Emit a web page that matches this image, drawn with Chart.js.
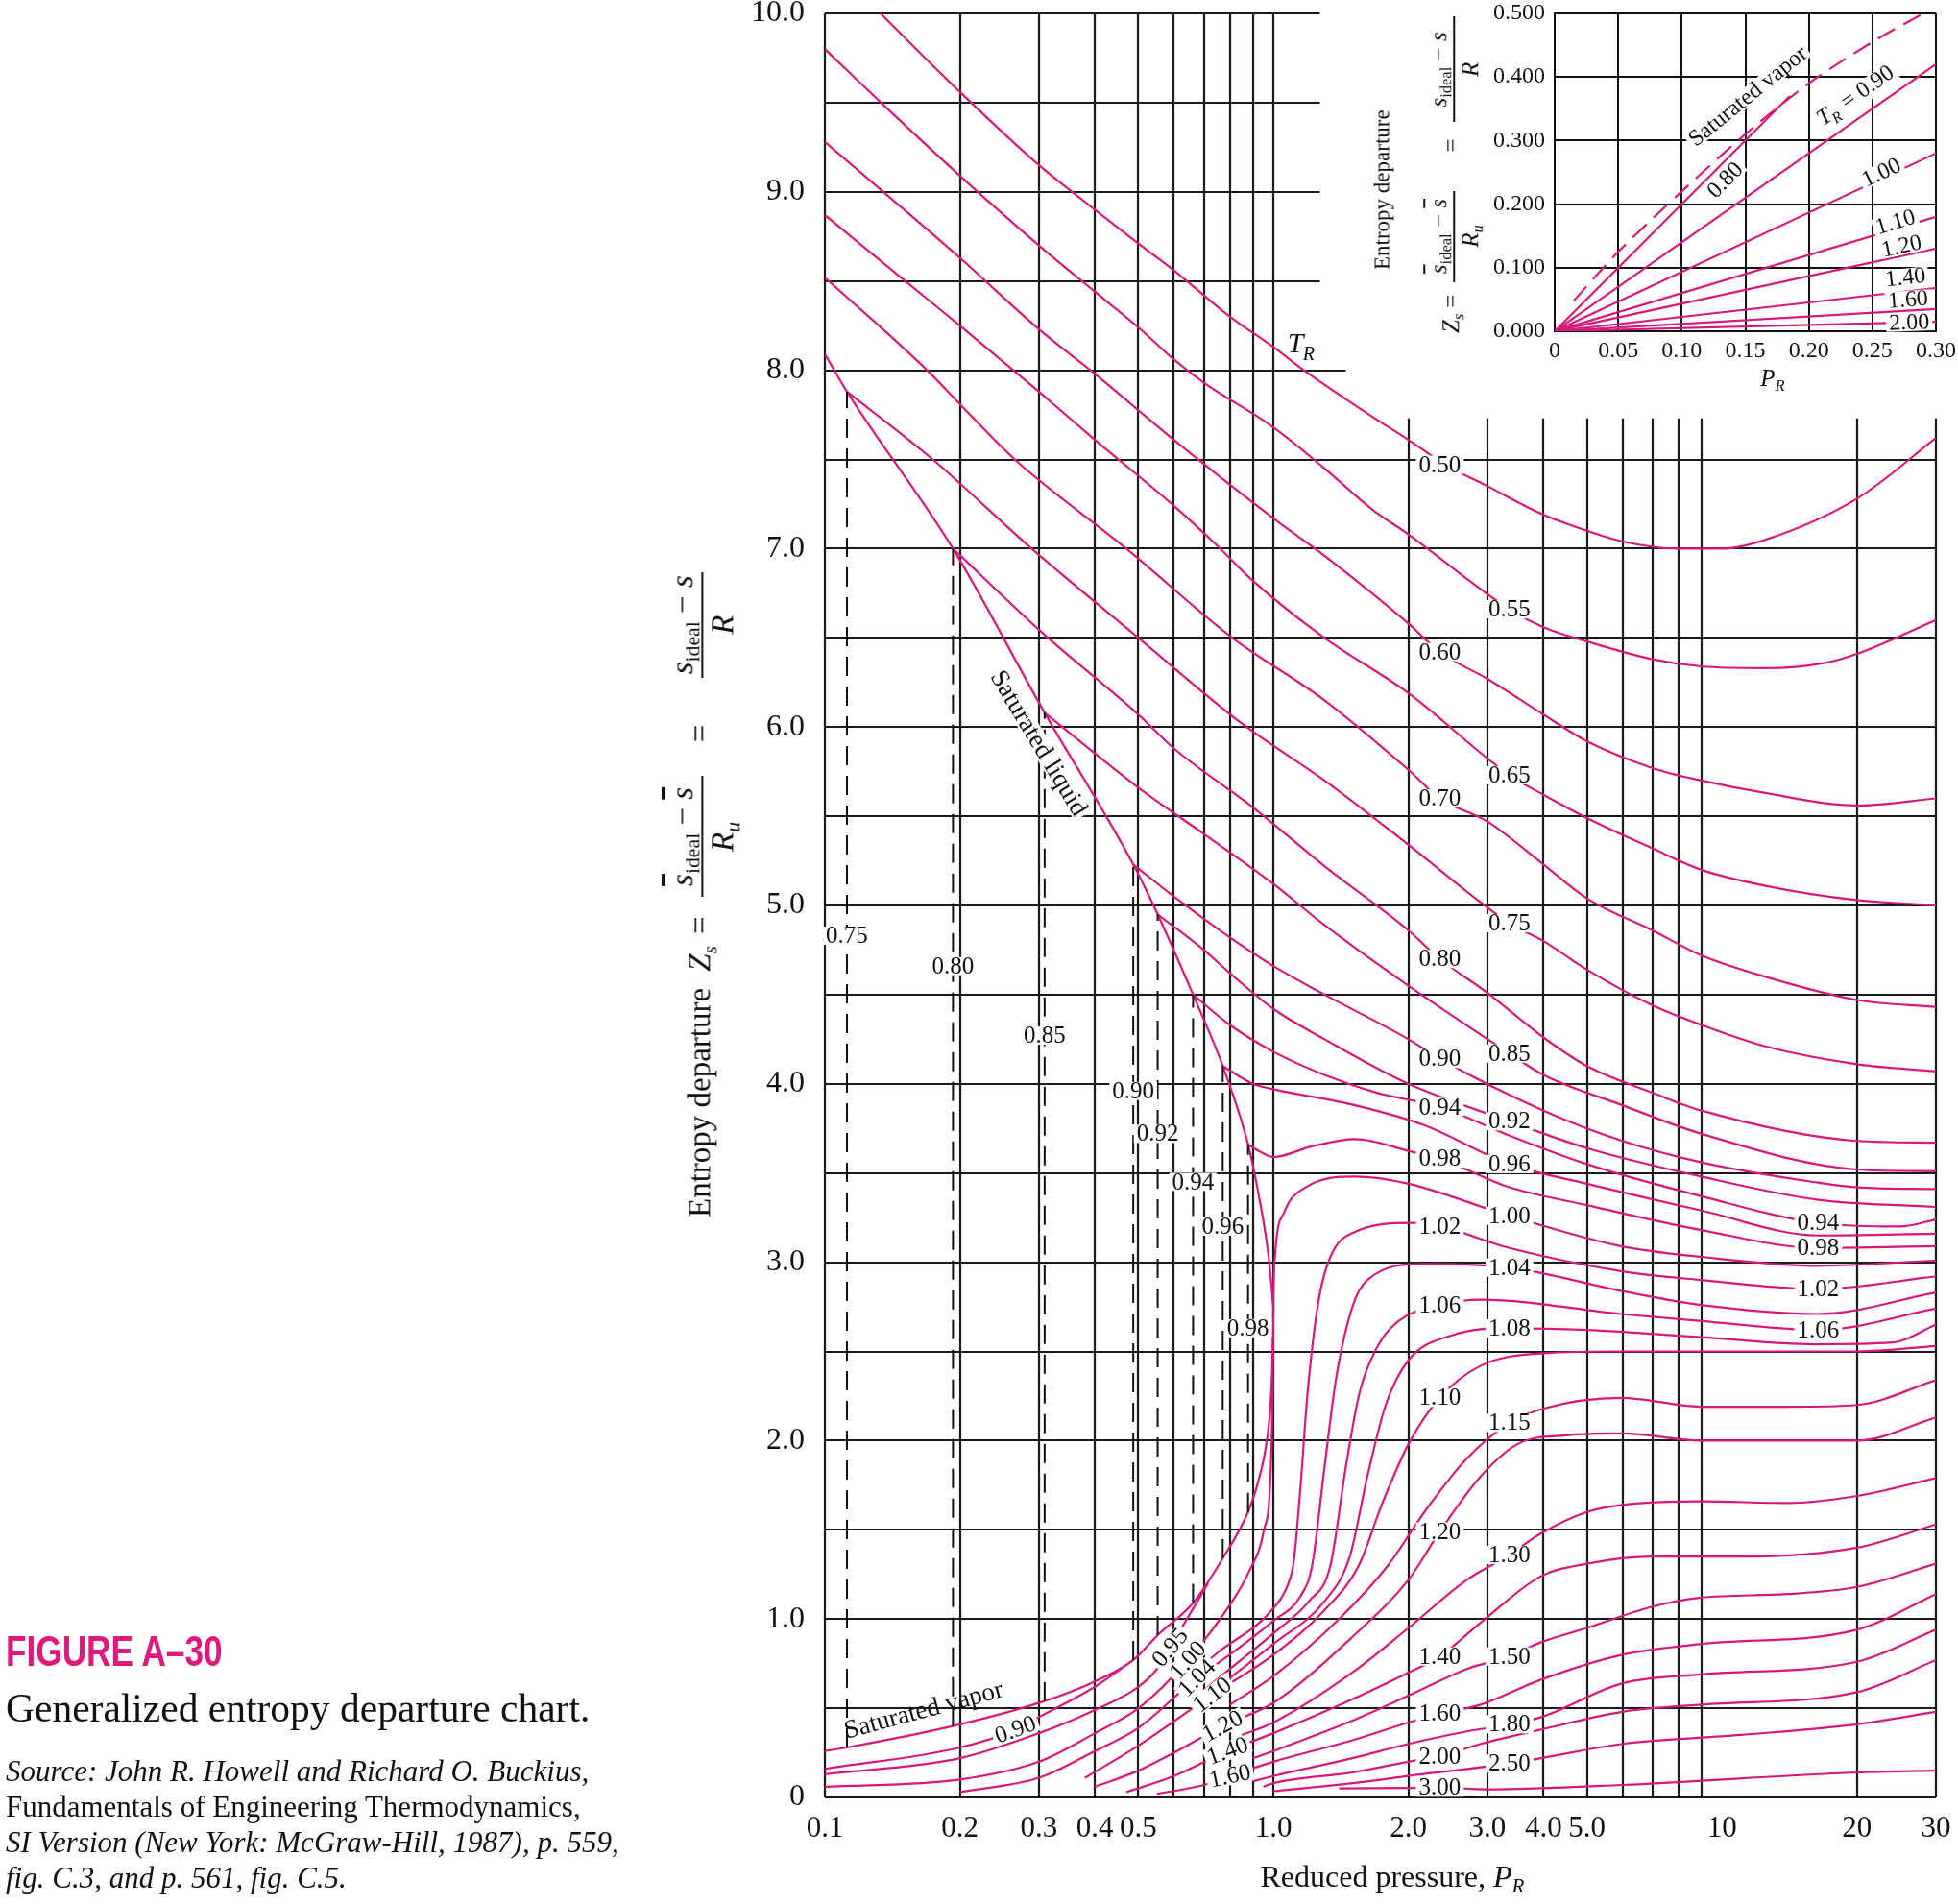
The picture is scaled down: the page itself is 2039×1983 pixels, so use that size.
<!DOCTYPE html>
<html lang="en">

<head>
    <meta charset="UTF-8">
    <title>Generalized entropy departure chart</title>
    <script src="https://cdn.jsdelivr.net/npm/chart.js"></script>
    <style>
        html, body { margin: 0; padding: 0; background: #fff; }
        body { width: 2039px; height: 1983px; position: relative; overflow: hidden;
               font-family: "Liberation Serif", "DejaVu Serif", serif; color: #111; }
        #main { position: absolute; left: 0; top: 0; }
        #inset { position: absolute; left: 1400px; top: 0; }
        .txt { position: absolute; white-space: nowrap; line-height: 1; z-index: 5; }
        .fig { font-family: "Liberation Sans", Arial, sans-serif; font-weight: bold; color: #e0197d;
               font-size: 44px; transform-origin: 0 0; transform: scaleX(0.8); }
        .vert { transform-origin: 0 0; transform: rotate(-90deg) translateY(-50%); }
        .frac { display: inline-flex; flex-direction: column; align-items: center; vertical-align: middle; }
        .frac > .num { align-self: stretch; text-align: center; border-bottom: 2px solid #111; padding-bottom: 0.1em; }
        .frac > .den { padding-top: 0.12em; }
        sub { font-size: 0.66em; vertical-align: -0.3em; line-height: 0; }
        .ob { text-decoration: overline; }
    </style>
</head>

<body>
    <canvas id="main" width="2039" height="1983"></canvas>
    <canvas id="inset" width="639" height="430"></canvas>

    <!-- axis titles -->
    <div class="txt vert" style="left:732px; top:1268px; font-size:33px;">Entropy departure<span style="margin-left:17px"><i>Z</i><sub><i>s</i></sub></span><span style="margin:0 20px 0 12px">=</span><span class="frac" style="width:126px"><span class="num"><i class="ob">s</i><sub>ideal</sub> − <i class="ob">s</i></span><span class="den"><i>R<sub>u</sub></i></span></span><span style="margin:0 49px 0 35px">=</span><span class="frac" style="width:110px"><span class="num"><i>s</i><sub>ideal</sub> − <i>s</i></span><span class="den"><i>R</i></span></span></div>
    <div class="txt" style="left:1450px; top:1938px; font-size:32px; transform:translateX(-50%);">Reduced pressure, <i>P</i><sub><i>R</i></sub></div>

    <div class="txt vert" style="left:1439px; top:281px; font-size:23px;">Entropy departure</div>
    <div class="txt vert" style="left:1514px; top:347px; font-size:25px;"><i>Z</i><sub><i>s</i></sub><span style="margin:0 13px 0 6px">=</span><span class="frac" style="width:95px"><span class="num"><i class="ob">s</i><sub>ideal</sub> − <i class="ob">s</i></span><span class="den"><i>R<sub>u</sub></i></span></span><span style="margin:0 17px 0 40px">=</span><span class="frac" style="width:110px"><span class="num"><i>s</i><sub>ideal</sub> − <i>s</i></span><span class="den"><i>R</i></span></span></div>
    <div class="txt" style="left:1846px; top:381px; font-size:25px; transform:translateX(-50%);"><i>P</i><sub><i>R</i></sub></div>

    <!-- caption -->
    <div class="txt fig" style="left:6px; top:1698px;">FIGURE A–30</div>
    <div class="txt" style="left:6px; top:1759px; font-size:41.5px;">Generalized entropy departure chart.</div>
    <div class="txt" style="left:6px; top:1829px; font-size:31px;"><i>Source: John R. Howell and Richard O. Buckius,</i></div>
    <div class="txt" style="left:6px; top:1866px; font-size:31px;">Fundamentals of Engineering Thermodynamics,</div>
    <div class="txt" style="left:6px; top:1903px; font-size:31px;"><i>SI Version (New York: McGraw-Hill, 1987), p. 559,</i></div>
    <div class="txt" style="left:6px; top:1940px; font-size:31px;"><i>fig. C.3, and p. 561, fig. C.5.</i></div>
</body>

</html>

<script>
    const SERIF = '"Liberation Serif", "DejaVu Serif", serif';
    const MAGENTA = '#d6197a';

    // axis ticks
    const xTickValues = [0.1, 0.2, 0.3, 0.4, 0.5, 1, 2, 3, 4, 5, 10, 20, 30];
    const xTickLabels = ['0.1', '0.2', '0.3', '0.4', '0.5', '1.0', '2.0', '3.0', '4.0', '5.0', '10', '20', '30'];
    const yTickValues = [0, 1, 2, 3, 4, 5, 6, 7, 8, 9, 10];
    const yTickLabels = ['0', '1.0', '2.0', '3.0', '4.0', '5.0', '6.0', '7.0', '8.0', '9.0', '10.0'];
    const gridP = [0.1, 0.2, 0.3, 0.4, 0.5, 0.6, 0.7, 0.8, 0.9, 1, 2, 3, 4, 5, 6, 7, 8, 9, 20, 30];
    const gridZ = [0, 0.5, 1, 1.5, 2, 2.5, 3, 3.5, 4, 4.5, 5, 5.5, 6, 6.5, 7, 7.5, 8, 8.5, 9, 9.5, 10];

    // saturation lines [P_R, Z]
    const satLiquid = [[0.1, 8.09], [0.112, 7.88], [0.193, 7.0], [0.309, 6.08], [0.487, 5.23], [0.552, 4.95], [0.662, 4.5], [0.771, 4.1], [0.878, 3.66], [0.93, 3.36], [0.976, 3.03], [0.997, 2.78], [1.0, 2.74]];
    const satVapor = [[0.1, 0.26], [0.112, 0.28], [0.193, 0.4], [0.309, 0.54], [0.4, 0.65], [0.487, 0.77], [0.552, 0.91], [0.662, 1.09], [0.771, 1.34], [0.878, 1.6], [0.92, 1.75], [0.96, 1.95], [0.985, 2.2], [0.995, 2.45], [1.0, 2.74]];

    const satTemps = ['0.75', '0.80', '0.85', '0.90', '0.92', '0.94', '0.96', '0.98'];
    const satPressures = [0.112, 0.193, 0.309, 0.487, 0.552, 0.662, 0.771, 0.878];
    const satVaporZ = [0.28, 0.40, 0.54, 0.77, 0.91, 1.09, 1.34, 1.60];
    const satLiquidZ = [7.88, 7.00, 6.08, 5.23, 4.95, 4.50, 4.10, 3.66];
    const satLabelZ = [4.83, 4.66, 4.27, 3.96, 3.72, 3.45, 3.20, 2.63];

    // isotherms T_R [P_R, Z]
    const tr050 = [[0.133, 10.0], [0.2, 9.56], [0.3, 9.15], [0.4, 8.9], [0.5, 8.71], [0.6, 8.56], [0.8, 8.3], [1.0, 8.13], [1.17, 8.0], [1.66, 7.74], [2.0, 7.61], [2.42, 7.47], [3.0, 7.35], [4.0, 7.19], [5.0, 7.1], [6.0, 7.04], [8.0, 7.0], [10, 7.0], [12.5, 7.05], [20, 7.28], [30, 7.62]];
    const tr055 = [[0.1, 9.8], [0.136, 9.48], [0.2, 9.09], [0.3, 8.7], [0.4, 8.44], [0.5, 8.24], [0.6, 8.06], [0.7, 7.93], [1.0, 7.68], [1.3, 7.45], [1.66, 7.22], [2.0, 7.08], [3.36, 6.66], [4.0, 6.56], [5.0, 6.48], [7.0, 6.38], [9.0, 6.34], [12.5, 6.33], [17, 6.36], [20, 6.41], [30, 6.6]];
    const tr060 = [[0.1, 9.28], [0.135, 9.0], [0.2, 8.63], [0.3, 8.23], [0.4, 7.98], [0.6, 7.61], [1.0, 7.17], [1.3, 6.96], [2.0, 6.58], [2.35, 6.42], [3.0, 6.27], [4.0, 6.07], [5.0, 5.92], [7.0, 5.77], [9.0, 5.7], [12.5, 5.63], [20, 5.56], [30, 5.6]];
    const tr065 = [[0.1, 8.87], [0.151, 8.5], [0.2, 8.25], [0.3, 7.88], [0.4, 7.61], [0.6, 7.24], [0.74, 7.03], [0.9, 6.82], [1.3, 6.5], [2.0, 6.19], [3.36, 5.73], [4.0, 5.62], [5.0, 5.49], [7.0, 5.32], [9.0, 5.2], [12.5, 5.11], [20, 5.03], [30, 5.0]];
    const tr070 = [[0.1, 8.52], [0.169, 8.0], [0.2, 7.81], [0.265, 7.5], [0.47, 7.0], [0.81, 6.5], [1.3, 6.15], [2.0, 5.76], [2.35, 5.6], [3.0, 5.47], [4.0, 5.23], [5.0, 5.04], [7.0, 4.86], [9.0, 4.72], [12.5, 4.6], [20, 4.47], [30, 4.43]];
    const tr075 = [[0.112, 7.88], [0.174, 7.5], [0.289, 7.0], [0.5, 6.5], [0.85, 6.02], [1.3, 5.7], [2.0, 5.34], [3.36, 4.9], [4.0, 4.8], [5.0, 4.64], [7.0, 4.44], [9.0, 4.33], [12.5, 4.21], [20, 4.11], [30, 4.07]];
    const tr080 = [[0.193, 7.0], [0.308, 6.52], [0.5, 6.07], [0.6, 5.88], [0.9, 5.55], [1.3, 5.22], [2.0, 4.86], [2.35, 4.7], [3.0, 4.51], [4.0, 4.26], [5.0, 4.1], [7.0, 3.95], [9.0, 3.85], [20, 3.68], [30, 3.67]];
    const tr085 = [[0.309, 6.08], [0.5, 5.66], [0.7, 5.4], [1.0, 5.12], [1.3, 4.89], [2.0, 4.55], [3.36, 4.17], [4.0, 4.05], [6.0, 3.88], [9.0, 3.72], [20, 3.52], [30, 3.51]];
    const tr090 = [[0.487, 5.23], [0.6, 5.05], [0.8, 4.82], [1.0, 4.66], [1.3, 4.5], [2.0, 4.25], [2.35, 4.14], [4.0, 3.85], [6.0, 3.68], [9.0, 3.56], [16, 3.45], [20, 3.42], [30, 3.41]];
    const tr092 = [[0.552, 4.95], [0.7, 4.75], [0.8, 4.62], [1.0, 4.42], [1.3, 4.25], [2.0, 4.0], [3.36, 3.79], [5.0, 3.64], [9.0, 3.48], [16.4, 3.35], [30, 3.31]];
    const tr094 = [[0.662, 4.5], [0.8, 4.33], [1.0, 4.18], [1.3, 4.05], [1.7, 3.95], [2.35, 3.87], [3.36, 3.71], [5.0, 3.55], [9.0, 3.37], [16.4, 3.22], [25, 3.2], [30, 3.24]];
    const tr096 = [[0.771, 4.1], [0.9, 4.0], [1.0, 3.97], [1.52, 3.88], [2.16, 3.77], [3.36, 3.55], [5.0, 3.44], [9.0, 3.29], [16.4, 3.15], [30, 3.16]];
    const tr098 = [[0.878, 3.66], [0.95, 3.61], [1.0, 3.59], [1.22, 3.65], [1.52, 3.69], [2.03, 3.62], [2.35, 3.58], [3.36, 3.42], [5.0, 3.32], [9.0, 3.18], [16.4, 3.08], [30, 3.09]];
    const tr100 = [[0.1, 0.06], [0.2, 0.1], [0.3, 0.2], [0.4, 0.36], [0.5, 0.5], [0.644, 0.77], [0.8, 1.08], [0.88, 1.26], [0.953, 1.5], [0.984, 1.78], [0.997, 2.36], [1.0, 2.78], [1.008, 3.03], [1.057, 3.28], [1.18, 3.42], [1.52, 3.48], [2.0, 3.44], [3.36, 3.26], [5.95, 3.09], [9.0, 3.03], [16.4, 2.98], [30, 3.01]];
    const tr102 = [[0.6, 0.6], [0.75, 0.81], [1.0, 1.06], [1.08, 1.2], [1.11, 1.32], [1.15, 1.75], [1.19, 2.25], [1.26, 2.78], [1.34, 3.03], [1.52, 3.17], [2.03, 3.22], [2.35, 3.2], [3.36, 3.08], [5.95, 2.95], [9.0, 2.9], [16.4, 2.85], [30, 2.92]];
    const tr104 = [[0.2, 0.03], [0.3, 0.11], [0.4, 0.26], [0.5, 0.39], [0.675, 0.67], [0.75, 0.75], [1.0, 0.99], [1.15, 1.13], [1.22, 1.3], [1.3, 1.85], [1.38, 2.35], [1.5, 2.75], [1.62, 2.9], [2.16, 2.99], [3.36, 2.97], [5.95, 2.84], [9.0, 2.76], [16.4, 2.71], [30, 2.83]];
    const tr106 = [[0.7, 0.6], [0.8, 0.72], [1.0, 0.92], [1.2, 1.1], [1.34, 1.3], [1.45, 1.85], [1.55, 2.25], [1.7, 2.52], [1.9, 2.67], [2.35, 2.76], [2.9, 2.79], [5.95, 2.71], [9.0, 2.67], [16.4, 2.62], [30, 2.74]];
    const tr108 = [[0.8, 0.67], [1.0, 0.86], [1.3, 1.1], [1.48, 1.35], [1.62, 1.8], [1.78, 2.2], [2.0, 2.45], [2.5, 2.59], [3.36, 2.63], [5.0, 2.62], [9.0, 2.58], [16, 2.54], [24, 2.55], [30, 2.65]];
    const tr110 = [[0.38, 0.11], [0.5, 0.29], [0.73, 0.575], [1.0, 0.8], [1.3, 1.05], [1.55, 1.3], [1.75, 1.65], [2.0, 1.98], [2.35, 2.24], [2.9, 2.42], [4.0, 2.49], [6.0, 2.5], [9.0, 2.5], [20, 2.5], [30, 2.53]];
    const tr115 = [[0.8, 0.52], [1.0, 0.68], [1.4, 1.0], [1.8, 1.3], [2.2, 1.62], [2.7, 1.9], [3.36, 2.1], [4.0, 2.18], [5.95, 2.24], [9.0, 2.19], [14, 2.19], [20, 2.2], [30, 2.34]];
    const tr120 = [[0.4, 0.06], [0.5, 0.15], [0.6, 0.25], [0.77, 0.4], [1.0, 0.53], [1.5, 0.9], [2.0, 1.22], [2.35, 1.49], [2.9, 1.8], [3.5, 1.98], [4.5, 2.03], [6.0, 2.04], [9.0, 2.0], [20, 2.0], [30, 2.13]];
    const tr130 = [[0.85, 0.35], [1.0, 0.42], [1.5, 0.7], [2.0, 0.95], [2.7, 1.22], [3.36, 1.36], [3.95, 1.48], [5.0, 1.6], [6.0, 1.64], [9.0, 1.66], [14, 1.65], [20, 1.69], [30, 1.79]];
    const tr140 = [[0.47, 0.03], [0.6, 0.12], [0.79, 0.26], [1.0, 0.36], [1.5, 0.55], [2.0, 0.7], [2.35, 0.79], [2.9, 0.98], [3.95, 1.24], [5.0, 1.31], [7.0, 1.35], [11, 1.35], [20, 1.4], [30, 1.53]];
    const tr150 = [[0.9, 0.22], [1.0, 0.26], [1.5, 0.43], [2.0, 0.57], [2.7, 0.72], [3.36, 0.79], [3.95, 0.87], [5.0, 0.95], [7.0, 1.07], [9.0, 1.12], [14, 1.14], [20, 1.18], [30, 1.31]];
    const tr160 = [[0.55, 0.02], [0.7, 0.07], [0.8, 0.12], [1.0, 0.2], [1.5, 0.32], [2.0, 0.42], [2.35, 0.47], [2.9, 0.52], [3.95, 0.66], [6.0, 0.8], [9.0, 0.86], [20, 0.94], [30, 1.14]];
    const tr180 = [[0.9, 0.09], [1.0, 0.12], [1.5, 0.22], [2.0, 0.3], [2.7, 0.37], [3.36, 0.41], [3.95, 0.45], [6.0, 0.64], [9.0, 0.69], [20, 0.76], [30, 0.94]];
    const tr200 = [[0.95, 0.06], [1.0, 0.08], [1.5, 0.14], [2.0, 0.2], [2.35, 0.23], [2.9, 0.3], [3.95, 0.38], [6.0, 0.48], [9.0, 0.52], [20, 0.59], [30, 0.77]];
    const tr250 = [[1.0, 0.035], [1.5, 0.08], [2.0, 0.12], [3.36, 0.19], [3.95, 0.22], [6.0, 0.3], [11, 0.35], [20, 0.41], [30, 0.48]];
    const tr300 = [[1.4, 0.05], [2.35, 0.055], [3.0, 0.045], [6.0, 0.07], [20, 0.14], [30, 0.15]];
    // vapour branches below saturation
    const tr090v = [[0.1, 0.16], [0.2, 0.28], [0.266, 0.38], [0.3, 0.45], [0.4, 0.62], [0.487, 0.77]];
    const tr095v = [[0.1, 0.13], [0.2, 0.22], [0.3, 0.36], [0.4, 0.49], [0.5, 0.62], [0.55, 0.72], [0.588, 0.84], [0.715, 1.2]];

    const isotherms = [tr050, tr055, tr060, tr065, tr070, tr075, tr080, tr085, tr090, tr092, tr094, tr096, tr098,
        tr100, tr102, tr104, tr106, tr108, tr110, tr115, tr120, tr130, tr140, tr150, tr160, tr180, tr200, tr250, tr300,
        tr090v, tr095v];

    // curve labels
    const curveLabelText = ['0.50', '0.55', '0.60', '0.65', '0.70', '0.75', '0.80', '0.85', '0.90', '0.92', '0.94', '0.96', '0.98', '1.00', '1.02', '1.04', '1.06', '1.08', '1.10', '1.15', '1.20', '1.30', '1.40', '1.50', '1.60', '1.80', '2.00', '2.50', '3.00', '0.94', '0.98', '1.02', '1.06'];
    const curveLabelP = [2.35, 3.36, 2.35, 3.36, 2.35, 3.36, 2.35, 3.36, 2.35, 3.36, 2.35, 3.36, 2.35, 3.36, 2.35, 3.36, 2.35, 3.36, 2.35, 3.36, 2.35, 3.36, 2.35, 3.36, 2.35, 3.36, 2.35, 3.36, 2.35, 16.4, 16.4, 16.4, 16.4];
    const curveLabelZ = [7.47, 6.66, 6.42, 5.73, 5.6, 4.9, 4.7, 4.17, 4.14, 3.79, 3.87, 3.55, 3.58, 3.26, 3.2, 2.97, 2.76, 2.63, 2.24, 2.1, 1.49, 1.36, 0.79, 0.79, 0.47, 0.41, 0.23, 0.19, 0.055, 3.22, 3.08, 2.85, 2.62];
    const vaporLabelText = ['0.90', '0.95', '1.00', '1.04', '1.10', '1.20', '1.40', '1.60'];
    const vaporLabelP = [0.266, 0.588, 0.644, 0.675, 0.73, 0.77, 0.79, 0.80];
    const vaporLabelZ = [0.38, 0.84, 0.77, 0.67, 0.575, 0.4, 0.26, 0.12];
    const vaporLabelAngle = [-20, -50, -48, -45, -38, -28, -20, -12];

    // inset: low pressure detail [P_R, Z]
    const insetXTicks = [0, 0.05, 0.10, 0.15, 0.20, 0.25, 0.30];
    const insetXTickLabels = ['0', '0.05', '0.10', '0.15', '0.20', '0.25', '0.30'];
    const insetYTicks = [0, 0.1, 0.2, 0.3, 0.4, 0.5];
    const insetYTickLabels = ['0.000', '0.100', '0.200', '0.300', '0.400', '0.500'];
    const insetSatVapor = [[0.015, 0.048], [0.05, 0.125], [0.1, 0.22], [0.15, 0.31], [0.2, 0.39], [0.25, 0.455], [0.29, 0.5]];
    const inset080 = [[0, 0], [0.185, 0.37]];
    const inset090 = [[0, 0], [0.3, 0.42]];
    const inset100 = [[0, 0], [0.3, 0.28]];
    const inset110 = [[0, 0], [0.3, 0.18]];
    const inset120 = [[0, 0], [0.3, 0.13]];
    const inset140 = [[0, 0], [0.3, 0.068]];
    const inset160 = [[0, 0], [0.3, 0.035]];
    const inset200 = [[0, 0], [0.3, 0.015]];
    const insetLines = [inset080, inset090, inset100, inset110, inset120, inset140, inset160, inset200];
    const insetLabelText = ['0.80', '1.00', '1.10', '1.20', '1.40', '1.60', '2.00'];
    const insetLabelP = [0.134, 0.257, 0.268, 0.273, 0.276, 0.278, 0.279];
    const insetLabelZ = [0.238, 0.25, 0.172, 0.134, 0.085, 0.05, 0.014];
    const insetLabelAngle = [-45, -25, -17, -12, -6, -4, -2];

    function toXY(arr) {
        return arr.map(([x, y]) => ({ x: x, y: y }));
    }

    function drawTag(ctx, text, x, y, angle, size, box) {
        ctx.save();
        ctx.translate(x, y);
        if (angle) ctx.rotate(angle * Math.PI / 180);
        ctx.font = size + 'px ' + SERIF;
        const w = ctx.measureText(text).width;
        if (box) {
            ctx.fillStyle = '#fff';
            ctx.fillRect(-w / 2 - 3, -size * 0.38, w + 6, size * 0.76);
        }
        ctx.fillStyle = '#111';
        ctx.textAlign = 'center';
        ctx.textBaseline = 'middle';
        ctx.fillText(text, 0, 1);
        ctx.restore();
    }

    // grid of the main chart, cut away under the inset
    const mainGrid = {
        id: 'mainGrid',
        beforeDatasetsDraw(chart) {
            const { ctx, scales: { x, y } } = chart;
            ctx.save();
            ctx.strokeStyle = '#1a1a1a';
            ctx.lineWidth = 2.2;
            ctx.beginPath();
            gridZ.forEach(z => {
                let right = 30;
                if (z > 8.2) right = 1.27;
                else if (z > 7.8) right = 1.45;
                const py = Math.round(y.getPixelForValue(z));
                ctx.moveTo(x.getPixelForValue(0.1), py);
                ctx.lineTo(x.getPixelForValue(right), py);
            });
            gridP.forEach(p => {
                const top = p > 1.05 ? 7.73 : 10;
                const px = Math.round(x.getPixelForValue(p));
                ctx.moveTo(px, y.getPixelForValue(0));
                ctx.lineTo(px, y.getPixelForValue(top));
            });
            ctx.stroke();
            ctx.restore();
        }
    };

    const mainLabels = {
        id: 'mainLabels',
        afterDatasetsDraw(chart) {
            const { ctx, scales: { x, y } } = chart;
            curveLabelText.forEach((t, i) => {
                drawTag(ctx, t, x.getPixelForValue(curveLabelP[i]), y.getPixelForValue(curveLabelZ[i]), 0, 25, true);
            });
            satTemps.forEach((t, i) => {
                drawTag(ctx, t, x.getPixelForValue(satPressures[i]), y.getPixelForValue(satLabelZ[i]), 0, 25, true);
            });
            vaporLabelText.forEach((t, i) => {
                drawTag(ctx, t, x.getPixelForValue(vaporLabelP[i]), y.getPixelForValue(vaporLabelZ[i]), vaporLabelAngle[i], 25, true);
            });
            drawTag(ctx, 'Saturated vapor', x.getPixelForValue(0.166), y.getPixelForValue(0.49), -15, 27, false);
            drawTag(ctx, 'Saturated liquid', x.getPixelForValue(0.3), y.getPixelForValue(5.91), 59, 27, true);

            // T_R marker
            const tx = x.getPixelForValue(1.13), ty = y.getPixelForValue(8.14);
            ctx.save();
            ctx.fillStyle = '#111';
            ctx.textBaseline = 'middle';
            ctx.font = 'italic 30px ' + SERIF;
            ctx.fillText('T', tx - 10, ty);
            ctx.font = 'italic 20px ' + SERIF;
            ctx.fillText('R', tx + 6, ty + 10);
            ctx.restore();
        }
    };

    const mainSets = [];
    satPressures.forEach((p, i) => {
        mainSets.push({
            data: [{ x: p, y: satVaporZ[i] }, { x: p, y: satLiquidZ[i] }],
            borderColor: '#111', borderWidth: 2, borderDash: [20, 11], tension: 0, pointRadius: 0
        });
    });
    [satLiquid, satVapor].concat(isotherms).forEach(arr => {
        mainSets.push({
            data: toXY(arr),
            borderColor: MAGENTA, borderWidth: 2.2, pointRadius: 0, cubicInterpolationMode: 'monotone'
        });
    });

    new Chart(document.getElementById('main'), {
        type: 'line',
        data: { datasets: mainSets },
        options: {
            responsive: false,
            animation: false,
            devicePixelRatio: 1,
            layout: { padding: { top: 14, right: 23, left: 0, bottom: 0 } },
            plugins: { legend: { display: false }, tooltip: { enabled: false } },
            scales: {
                x: {
                    type: 'logarithmic', min: 0.1, max: 30,
                    grid: { display: false }, border: { display: false },
                    afterBuildTicks: s => { s.ticks = xTickValues.map(v => ({ value: v })); },
                    afterFit: s => { s.height = 111; s.paddingLeft = 0; s.paddingRight = 0; },
                    ticks: {
                        autoSkip: false, maxRotation: 0, minRotation: 0, padding: 6, color: '#111',
                        font: { family: SERIF, size: 31 },
                        callback: (v, i) => xTickLabels[i]
                    }
                },
                y: {
                    min: 0, max: 10,
                    grid: { display: false }, border: { display: false },
                    afterBuildTicks: s => { s.ticks = yTickValues.map(v => ({ value: v })); },
                    afterFit: s => { s.width = 859; s.paddingTop = 0; s.paddingBottom = 0; },
                    ticks: {
                        padding: 13, color: '#111',
                        font: { family: SERIF, size: 32 },
                        callback: (v, i) => yTickLabels[i]
                    }
                }
            }
        },
        plugins: [mainGrid, mainLabels]
    });

    const insetLabels = {
        id: 'insetLabels',
        afterDatasetsDraw(chart) {
            const { ctx, scales: { x, y } } = chart;
            insetLabelText.forEach((t, i) => {
                drawTag(ctx, t, x.getPixelForValue(insetLabelP[i]), y.getPixelForValue(insetLabelZ[i]), insetLabelAngle[i], 24, true);
            });
            drawTag(ctx, 'Saturated vapor', x.getPixelForValue(0.152), y.getPixelForValue(0.37), -39, 24, true);

            // T_R = 0.90
            ctx.save();
            ctx.translate(x.getPixelForValue(0.237), y.getPixelForValue(0.37));
            ctx.rotate(-35 * Math.PI / 180);
            ctx.textBaseline = 'middle';
            ctx.font = '24px ' + SERIF;
            const wRest = ctx.measureText(' = 0.90').width;
            ctx.font = 'italic 24px ' + SERIF;
            const wT = ctx.measureText('T').width;
            const total = wT + 11 + wRest;
            ctx.fillStyle = '#fff';
            ctx.fillRect(-total / 2 - 3, -10, total + 6, 22);
            ctx.fillStyle = '#111';
            ctx.fillText('T', -total / 2, 0);
            ctx.font = 'italic 16px ' + SERIF;
            ctx.fillText('R', -total / 2 + wT - 1, 8);
            ctx.font = '24px ' + SERIF;
            ctx.fillText(' = 0.90', -total / 2 + wT + 11, 0);
            ctx.restore();
        }
    };

    const insetSets = [{
        data: toXY(insetSatVapor),
        borderColor: MAGENTA, borderWidth: 2.2, borderDash: [20, 10], pointRadius: 0, tension: 0.3
    }];
    insetLines.forEach(arr => {
        insetSets.push({ data: toXY(arr), borderColor: MAGENTA, borderWidth: 2.2, pointRadius: 0, tension: 0 });
    });

    new Chart(document.getElementById('inset'), {
        type: 'line',
        data: { datasets: insetSets },
        options: {
            responsive: false,
            animation: false,
            devicePixelRatio: 1,
            layout: { padding: { top: 14, right: 23, left: 0, bottom: 0 } },
            plugins: { legend: { display: false }, tooltip: { enabled: false } },
            scales: {
                x: {
                    type: 'linear', min: 0, max: 0.3,
                    grid: { color: '#111', lineWidth: 2, drawTicks: false },
                    border: { display: true, color: '#111', width: 2 },
                    afterBuildTicks: s => { s.ticks = insetXTicks.map(v => ({ value: v })); },
                    afterFit: s => { s.height = 85; s.paddingLeft = 0; s.paddingRight = 0; },
                    ticks: {
                        autoSkip: false, maxRotation: 0, padding: 6, color: '#111',
                        font: { family: SERIF, size: 24 },
                        callback: (v, i) => insetXTickLabels[i]
                    }
                },
                y: {
                    min: 0, max: 0.5,
                    grid: { color: '#111', lineWidth: 2, drawTicks: false },
                    border: { display: true, color: '#111', width: 2 },
                    afterBuildTicks: s => { s.ticks = insetYTicks.map(v => ({ value: v })); },
                    afterFit: s => { s.width = 219; s.paddingTop = 0; s.paddingBottom = 0; },
                    ticks: {
                        padding: 10, color: '#111',
                        font: { family: SERIF, size: 24 },
                        callback: (v, i) => insetYTickLabels[i]
                    }
                }
            }
        },
        plugins: [insetLabels]
    });
</script>
